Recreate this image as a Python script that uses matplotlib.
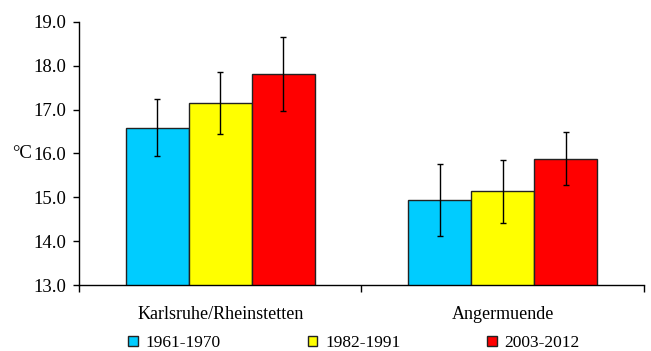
import numpy as np
import matplotlib.pyplot as plt

plt.rcParams['font.family'] = ['Liberation Serif', 'DejaVu Serif']

stations = ['Karlsruhe/Rheinstetten', 'Angermuende']
periods = ['1961-1970', '1982-1991', '2003-2012']
temp_1961 = [16.59, 14.93]
temp_1982 = [17.15, 15.14]
temp_2003 = [17.81, 15.88]
err_1961 = [0.64, 0.82]
err_1982 = [0.71, 0.72]
err_2003 = [0.85, 0.61]
colors = ['#00CCFF', '#FFFF00', '#FF0000']

fig = plt.figure(figsize=(6.51, 3.51), dpi=100)
ax = fig.add_axes([0.1214, 0.188, 0.8676, 0.75])

x = np.arange(len(stations))
w = 0.223
for i, (vals, errs) in enumerate([(temp_1961, err_1961), (temp_1982, err_1982), (temp_2003, err_2003)]):
    ax.bar(x + (i - 1) * w, vals, w, color=colors[i], edgecolor='#222222', linewidth=1,
           label=periods[i], zorder=2)
    ax.errorbar(x + (i - 1) * w, vals, yerr=errs, fmt='none', ecolor='black',
                elinewidth=1, capsize=2.2, capthick=1, zorder=3)

ax.set_ylim(13, 19)
ax.set_xlim(-0.5, 1.5)
ax.set_yticks(np.arange(13, 19.1, 1))
ax.set_yticklabels(['%.1f' % v for v in np.arange(13, 19.1, 1)], fontsize=13.5)
ax.tick_params(axis='y', direction='out', length=4, width=1, pad=5)

# category labels, ticks between categories
ax.set_xticks([-0.5, 0.5, 1.5])
ax.set_xticklabels([])
ax.tick_params(axis='x', direction='out', length=5, width=1)
for xi, name in zip(x, stations):
    ax.text(xi, -0.08, name, transform=ax.get_xaxis_transform(), ha='center', va='top', fontsize=13)

ax.spines['top'].set_visible(False)
ax.spines['right'].set_visible(False)
ax.spines['left'].set_linewidth(1)
ax.spines['bottom'].set_linewidth(1)

fig.text(22 / 651, 1 - 153 / 351, '°C', fontsize=13.5, ha='center', va='center')

fig.legend(loc='center', bbox_to_anchor=(0.544, 0.022), ncol=3, frameon=False,
           fontsize=12.5, handlelength=0.55, handleheight=0.55, handletextpad=0.45,
           columnspacing=5.0)

fig.savefig('out.png', dpi=100)
